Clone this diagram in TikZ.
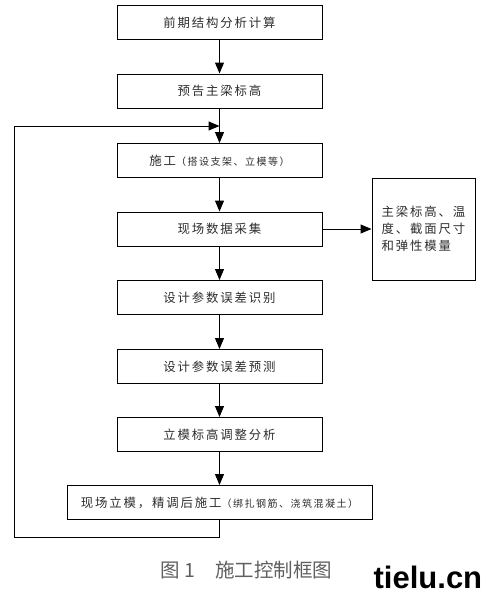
\documentclass[tikz,border=0pt]{standalone}
\usepackage{fontspec}
\setmainfont[LetterSpace=15]{Noto Sans CJK SC}
\newfontfamily\capfont{Noto Sans CJK SC}
\newfontfamily\markfont{Liberation Sans}
\usepackage{xcolor}
\usepackage{tikz}
\usetikzlibrary{arrows.meta, positioning}
\definecolor{textgray}{RGB}{45, 45, 45}
\definecolor{capgray}{RGB}{95, 95, 95}
\newcommand{\smallpar}{\fontsize{10}{12}\selectfont}

\begin{document}
\begin{tikzpicture}[x=1pt, y=-1pt, >={Triangle[length=11pt,width=9pt]}, line width=1pt,
  every node/.style={font=\fontsize{12.4}{17}\selectfont, text=textgray},
  stepbox/.style={draw, rectangle, minimum width=205pt, minimum height=34pt, inner sep=0pt}]

\useasboundingbox (0,0) rectangle (488,597);

% Steps
\node[stepbox] at (219.5,22.5) (calc) {前期结构分析计算};
\node[stepbox] at (219.5,91) (pred) {预告主梁标高};
\node[stepbox] at (219.5,160.5) (build) {施工{\smallpar（搭设支架、立模等）}};
\node[stepbox] at (219.5,229) (data) {现场数据采集};
\node[stepbox] at (219.5,297.5) (ident) {设计参数误差识别};
\node[stepbox] at (219.5,366.5) (fore) {设计参数误差预测};
\node[stepbox] at (219.5,434.5) (adjust) {立模标高调整分析};
\node[stepbox, minimum width=305pt] at (219.5,502.5) (final) {现场立模，精调后施工{\smallpar（绑扎钢筋、浇筑混凝土）}};

% Measured data
\node[stepbox, minimum width=103pt, minimum height=102pt, align=left] at (423.5,229) (meas) {主梁标高、温\\度、截面尺寸\\和弹性模量};

% Connections
\foreach \a/\b in {calc/pred, pred/build, build/data, data/ident, ident/fore, fore/adjust, adjust/final} {
    \draw[->] (\a) -- (\b);
}
\draw[->] (data) -- (meas);

% Feedback loop
\coordinate (loop) at (14,537);
\coordinate (back) at (219.5,126);
\draw[->] (final.south) |- (loop) |- (back);

% Caption
\node[font=\capfont\fontsize{19.5}{20}\selectfont, text=capgray] at (246.5,570) (cap) {图 1\quad 施工控制框图};
\node[font=\markfont\bfseries\fontsize{31}{31}\selectfont, text=black, anchor=base east] at (486,588) (mark) {tielu.cn};
\end{tikzpicture}
\end{document}
